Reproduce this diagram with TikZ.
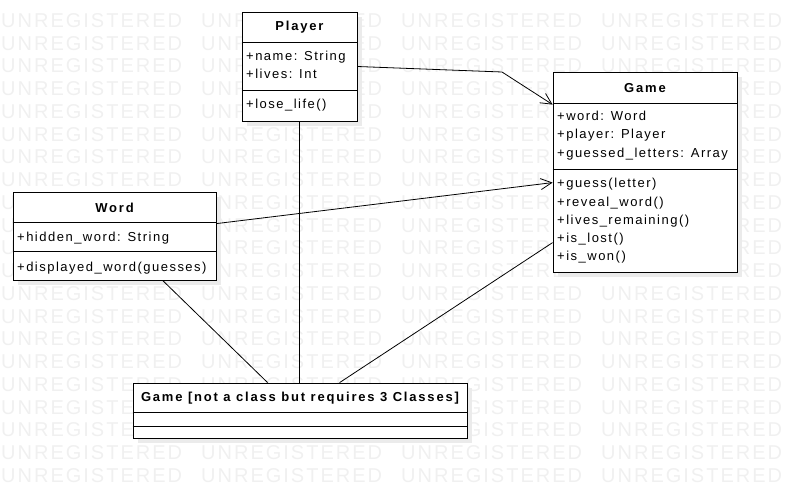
\documentclass[tikz,border=0pt]{standalone}
\usepackage{fontspec}
\setmainfont{Liberation Sans}[LetterSpace=11.5, BoldFeatures={LetterSpace=14}]
\newfontfamily\wmfont{Liberation Sans}[LetterSpace=10]
\usetikzlibrary{calc}
\usetikzlibrary{arrows.meta}
\usetikzlibrary{shadows}

\begin{document}
\begin{tikzpicture}[x=1pt, y=-1pt,
    classbox/.style={draw, fill=white, line width=0.8pt, inner sep=0pt,
      general shadow={fill=black!8, shadow xshift=5pt, shadow yshift=-5pt}},
    member/.style={anchor=west, inner sep=0pt, font=\fontsize{13}{15}\selectfont,
      text height=9.5pt, text depth=2.5pt},
    title/.style={inner sep=0pt, font=\fontsize{13}{15}\selectfont\bfseries},
    watermark/.style={anchor=west, inner sep=0pt, text=black!6,
      font=\wmfont\fontsize{20}{20}\selectfont},
    assoc/.style={line width=0.8pt, -{Straight Barb[length=11pt, width=11pt]}},
    link/.style={line width=0.8pt}
    ]
    \useasboundingbox (0,0) rectangle (787,487);

    % background text
    \foreach \r in {0,...,20}
      \foreach \c in {0,...,3}
        \node[watermark] (wm-\r-\c) at (200*\c+1, 20.5+22.75*\r) {UNREGISTERED};

    % classes
    \node[classbox, minimum width=115pt, minimum height=109pt] (player) at (299.5,66.5) {};
    \draw[link] ($(player.north west)+(0,31)$) -- ($(player.north east)+(0,31)$);
    \draw[link] ($(player.north west)+(0,79)$) -- ($(player.north east)+(0,79)$);
    \node[title] (player-t) at (299.5,27.5) {Player};
    \node[member] (player-a1) at (246,57) {+name: String};
    \node[member] (player-a2) at (246,74.5) {+lives: Int};
    \node[member] (player-m1) at (246,105) {+lose\_life()};

    \node[classbox, minimum width=184pt, minimum height=200pt] (game) at (645,172) {};
    \draw[link] ($(game.north west)+(0,32)$) -- ($(game.north east)+(0,32)$);
    \draw[link] ($(game.north west)+(0,98)$) -- ($(game.north east)+(0,98)$);
    \node[title] (game-t) at (645,88) {Game};
    \node[member] (game-a1) at (557,116.5) {+word: Word};
    \node[member] (game-a2) at (557,135) {+player: Player};
    \node[member] (game-a3) at (557,153.5) {+guessed\_letters: Array};
    \node[member] (game-m1) at (557,184) {+guess(letter)};
    \node[member] (game-m2) at (557,202.5) {+reveal\_word()};
    \node[member] (game-m3) at (557,220.5) {+lives\_remaining()};
    \node[member] (game-m4) at (557,239) {+is\_lost()};
    \node[member] (game-m5) at (557,257) {+is\_won()};

    \node[classbox, minimum width=203pt, minimum height=88pt] (word) at (114.5,236) {};
    \draw[link] ($(word.north west)+(0,31)$) -- ($(word.north east)+(0,31)$);
    \draw[link] ($(word.north west)+(0,60)$) -- ($(word.north east)+(0,60)$);
    \node[title] (word-t) at (114.5,207.5) {Word};
    \node[member] (word-a1) at (17,238) {+hidden\_word: String};
    \node[member] (word-m1) at (17,268) {+displayed\_word(guesses)};

    \node[classbox, minimum width=334pt, minimum height=55pt] (mainbox) at (300,410.5) {};
    \draw[link] ($(mainbox.north west)+(0,30)$) -- ($(mainbox.north east)+(0,30)$);
    \draw[link] ($(mainbox.north west)+(0,44)$) -- ($(mainbox.north east)+(0,44)$);
    \node[title] (mainbox-t) at (300,398) {Game [not a class but requires 3 Classes]};

    % associations
    \coordinate (bend) at (502,72);
    \draw[assoc] (player.east) -- (bend) -- ($(game.north west)+(0,33)$);
    \draw[assoc] ($(word.north east)+(0,32)$) -- ($(game.north west)+(0,111)$);
    \draw[link] ($(word.south west)+(150,0)$) -- ($(mainbox.north west)+(135,0)$);
    \draw[link] (player.south) -- (player.south |- mainbox.north);
    \draw[link] ($(game.north west)+(0,171)$) -- ($(mainbox.north west)+(207,0)$);
\end{tikzpicture}
\end{document}
